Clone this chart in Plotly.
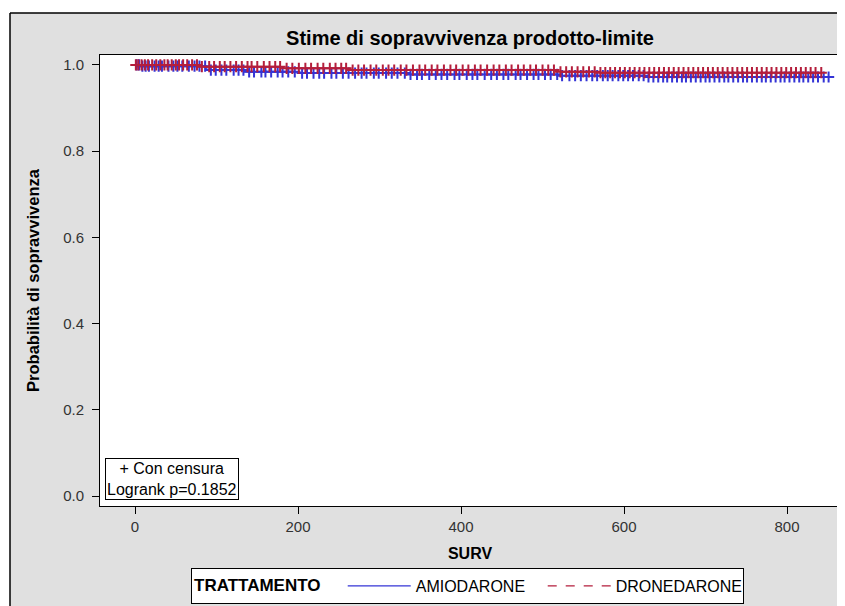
import numpy as np
import plotly.graph_objects as go

# ---- data ----
AMIO_EVENT_TIMES = [0, 6, 88, 135, 202, 337, 521, 628]
AMIO_SURV = [1.000, 0.997, 0.988, 0.984, 0.981, 0.978, 0.975, 0.972]
AMIO_END = 855

DRON_EVENT_TIMES = [0, 80, 182, 264, 521, 570]
DRON_SURV = [1.000, 0.996, 0.992, 0.988, 0.984, 0.982]
DRON_END = 850

AMIO_CENSOR = [2, 5, 9, 13, 17, 24, 29, 33, 41, 47, 52, 58, 66, 73, 79, 86, 93, 99,
               106, 112, 121, 127, 133, 140, 146, 155, 160, 167, 175, 181, 188, 196,
               205, 211, 219, 226, 232, 241, 247, 255, 262, 270, 278, 284, 293, 299,
               308, 315, 322, 331, 338, 346, 352, 361, 369, 376, 383, 392, 398, 407,
               414, 420, 429, 437, 444, 452, 458, 467, 473, 481, 489, 495, 503, 510,
               518, 524, 533, 540, 547, 554, 561, 567, 574, 580, 586, 593, 599, 605,
               611, 618, 624, 630, 636, 642, 648, 653, 659, 665, 671, 676, 682, 688,
               694, 700, 705, 711, 717, 723, 728, 734, 740, 746, 751, 757, 763, 769,
               774, 780, 786, 792, 797, 803, 809, 815, 820, 826, 832, 838, 845, 851]
DRON_CENSOR = [1, 4, 8, 12, 16, 21, 26, 31, 36, 40, 45, 50, 54, 59, 64, 70, 76, 82,
               91, 97, 104, 110, 117, 124, 131, 138, 143, 150, 158, 165, 172, 178,
               186, 193, 201, 209, 216, 224, 231, 239, 246, 253, 259, 267, 274, 281,
               289, 296, 304, 311, 318, 326, 333, 341, 349, 356, 364, 371, 379, 387,
               394, 402, 409, 417, 424, 432, 440, 447, 455, 462, 470, 477, 485, 492,
               500, 507, 514, 522, 529, 536, 543, 550, 557, 564, 571, 577, 583, 589,
               595, 601, 607, 613, 619, 625, 631, 637, 643, 649, 655, 661, 667, 673,
               679, 685, 691, 697, 703, 709, 715, 721, 727, 733, 739, 745, 751, 757,
               763, 769, 775, 781, 787, 793, 799, 805, 811, 817, 823, 829, 835, 842]

GROUPS = ["AMIODARONE", "DRONEDARONE"]
X_TICKS = [0, 200, 400, 600, 800]
Y_TICKS = [0.0, 0.2, 0.4, 0.6, 0.8, 1.0]
Y_TICK_TEXT = ["0.0", "0.2", "0.4", "0.6", "0.8", "1.0"]

BLUE = "#3434D6"
RED = "#B41E3C"


def step_at(times, surv, t):
    idx = np.searchsorted(np.asarray(times), np.asarray(t), side="right") - 1
    return np.asarray(surv)[idx]


fig = go.Figure()

series = [
    (GROUPS[0], AMIO_EVENT_TIMES, AMIO_SURV, AMIO_END, AMIO_CENSOR, BLUE, "solid"),
    (GROUPS[1], DRON_EVENT_TIMES, DRON_SURV, DRON_END, DRON_CENSOR, RED, "dash"),
]

for name, t, s, end, cens, col, dash in series:
    xs = list(t) + [end]
    ys = list(s) + [s[-1]]
    fig.add_trace(go.Scatter(
        x=xs, y=ys, mode="lines", line=dict(color=col, width=1.3, dash=dash, shape="hv"),
        name=name, showlegend=True, hoverinfo="skip"))

for name, t, s, end, cens, col, dash in series:
    fig.add_trace(go.Scatter(
        x=cens, y=step_at(t, s, cens), mode="markers",
        marker=dict(symbol="cross-thin", size=8, line=dict(color=col, width=2), color=col),
        name=name, showlegend=False, hoverinfo="skip"))

FONT = "Liberation Sans, Arial, sans-serif"

W, H = 837, 598
L, R, T, B = 92, 5, 47, 100
PW, PH = W - L - R, H - T - B

fig.update_layout(
    width=W, height=H,
    margin=dict(l=L, r=R, t=T, b=B, autoexpand=False),
    paper_bgcolor="#E0E0E0",
    plot_bgcolor="white",
    font=dict(family=FONT, size=15, color="#333333"),
    title=dict(text="<b>Stime di sopravvivenza prodotto-limite</b>",
               x=(L + PW / 2) / W, xanchor="center",
               y=1 - 30 / H, yanchor="middle",
               font=dict(family=FONT, size=20, color="black")),
    xaxis=dict(range=[-43, 865], tickvals=X_TICKS, ticks="outside", ticklen=7,
               tickcolor="black", showline=True, linecolor="black", linewidth=1,
               mirror=True, showgrid=False, zeroline=False, ticklabelstandoff=0,
               title=dict(text="<b>SURV</b>", font=dict(family=FONT, size=16, color="black"),
                          standoff=13),
               tickfont=dict(family=FONT, size=15, color="#333333")),
    yaxis=dict(range=[-0.023, 1.023], tickvals=Y_TICKS, ticktext=Y_TICK_TEXT,
               ticks="outside", ticklen=7, tickcolor="black", showline=True,
               linecolor="black", linewidth=1, mirror=True, showgrid=False,
               zeroline=False, ticklabelstandoff=5,
               title=dict(text="<b>Probabilità di sopravvivenza</b>",
                          font=dict(family=FONT, size=16.5, color="black"), standoff=19),
               tickfont=dict(family=FONT, size=15, color="#333333")),
    legend=dict(orientation="h", x=(191 - 8 - L) / PW, xanchor="left",
                y=-(578 - (T + PH)) / PH, yanchor="middle",
                bgcolor="white", bordercolor="black", borderwidth=1,
                title=dict(text="<b>TRATTAMENTO</b>&nbsp;&nbsp;&nbsp;", side="left",
                           font=dict(family=FONT, size=17, color="black")),
                font=dict(family=FONT, size=16, color="black"),
                itemwidth=63, entrywidth=122, tracegroupgap=0),
    showlegend=True,
)

# white page strips around the gray panel, with black border
px = lambda v: (v - L) / PW
py = lambda v: 1 - (v - T) / PH
fig.add_shape(type="rect", xref="paper", yref="paper",
              x0=px(-5), x1=px(W + 5), y0=py(5), y1=py(-5),
              fillcolor="white", line=dict(width=0), layer="above")
fig.add_shape(type="rect", xref="paper", yref="paper",
              x0=px(-5), x1=px(2), y0=py(H + 5), y1=py(-5),
              fillcolor="white", line=dict(width=0), layer="above")
fig.add_shape(type="line", xref="paper", yref="paper",
              x0=px(2), x1=px(W + 5), y0=py(5), y1=py(5),
              line=dict(color="black", width=1.5), layer="above")
fig.add_shape(type="line", xref="paper", yref="paper",
              x0=px(2), x1=px(2), y0=py(H + 5), y1=py(5),
              line=dict(color="black", width=1.5), layer="above")

# inset box
fig.add_annotation(xref="paper", yref="paper", x=5 / PW, y=6 / PH,
                   xanchor="left", yanchor="bottom", showarrow=False, align="center",
                   text="+ Con censura<br>Logrank p=0.1852",
                   font=dict(family=FONT, size=16, color="black"),
                   bgcolor="white", bordercolor="black", borderwidth=1, borderpad=1)

fig.write_html("out.html")
